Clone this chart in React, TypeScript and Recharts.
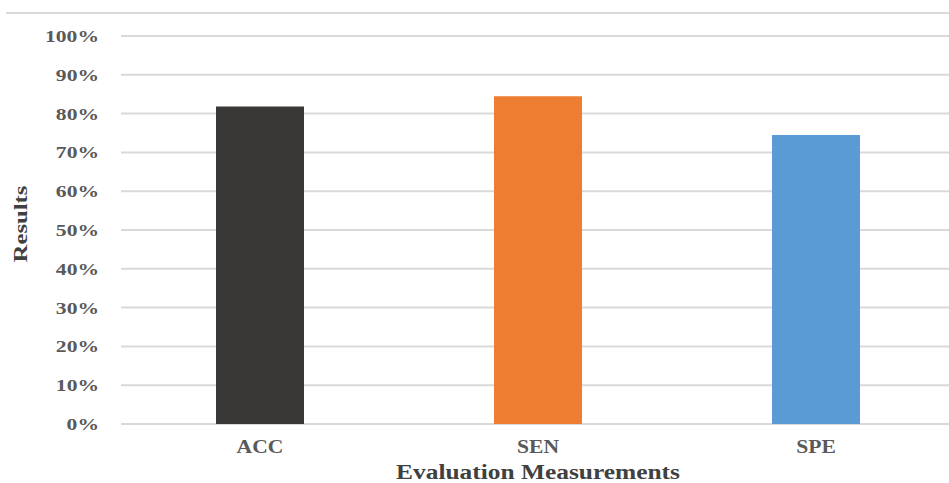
import React from "react";
import { BarChart, Bar, XAxis, YAxis, CartesianGrid, Cell } from "recharts";

const categories = ["ACC", "SEN", "SPE"];
const results = [81.8, 84.5, 74.5];
const barColors = ["#3a3836", "#ed7d31", "#5b9bd5"];
const yTicks = [0, 10, 20, 30, 40, 50, 60, 70, 80, 90, 100];
const xTitle = "Evaluation Measurements";
const yTitle = "Results";

const data = categories.map((c, i) => ({ name: c, value: results[i] }));

const FONT = "'Liberation Serif', 'Times New Roman', serif";

const YTick = (props: any) => {
  const { x, y, payload } = props;
  return (
    <text
      transform={`translate(${x},${y}) scale(1.27,1)`}
      textAnchor="end"
      dy="0.35em"
      fontFamily={FONT}
      fontWeight="bold"
      fontSize={17}
      fill="#595959"
    >
      {payload.value}%
    </text>
  );
};

const XTick = (props: any) => {
  const { x, y, payload } = props;
  return (
    <text
      transform={`translate(${x},${y}) scale(1.2,1)`}
      textAnchor="middle"
      fontFamily={FONT}
      fontWeight="bold"
      fontSize={18}
      fill="#595959"
    >
      {payload.value}
    </text>
  );
};

const XLabel = (props: any) => {
  const vb = props.viewBox;
  const cx = vb.x + vb.width / 2;
  return (
    <text
      transform={`translate(${cx},479) scale(1.27,1)`}
      textAnchor="middle"
      fontFamily={FONT}
      fontWeight="bold"
      fontSize={20}
      fill="#404040"
    >
      {xTitle}
    </text>
  );
};

const YLabel = (props: any) => {
  const vb = props.viewBox;
  const cy = vb.y + vb.height / 2 - 6;
  return (
    <text
      transform={`translate(27,${cy}) rotate(-90) scale(1.3,1)`}
      textAnchor="middle"
      fontFamily={FONT}
      fontWeight="bold"
      fontSize={19}
      fill="#404040"
    >
      {yTitle}
    </text>
  );
};

export default function App() {
  return (
    <div
      style={{
        position: "absolute",
        left: 0,
        top: 0,
        width: 949,
        height: 483,
        overflow: "hidden",
        background: "#ffffff",
      }}
    >
      <div
        style={{
          position: "absolute",
          left: 6,
          top: 12,
          width: 943,
          height: 2,
          background: "#d9d9d9",
        }}
      />
      <div style={{ position: "absolute", left: 0, top: 0 }}>
        <BarChart
          width={956}
          height={483}
          data={data}
          margin={{ top: 36, right: 1, bottom: 0, left: 0 }}
          barCategoryGap={95}
        >
          <CartesianGrid vertical={false} stroke="#d9d9d9" strokeWidth={2} />
          <XAxis
            dataKey="name"
            height={59}
            axisLine={false}
            tickLine={false}
            tickSize={0}
            tickMargin={29}
            tick={<XTick />}
            label={<XLabel />}
          />
          <YAxis
            width={121}
            domain={[0, 100]}
            ticks={yTicks}
            axisLine={false}
            tickLine={false}
            tickSize={0}
            tickMargin={22}
            tick={<YTick />}
            label={<YLabel />}
          />
          <Bar dataKey="value" isAnimationActive={false}>
            {data.map((d, i) => (
              <Cell key={d.name} fill={barColors[i]} />
            ))}
          </Bar>
        </BarChart>
      </div>
    </div>
  );
}
